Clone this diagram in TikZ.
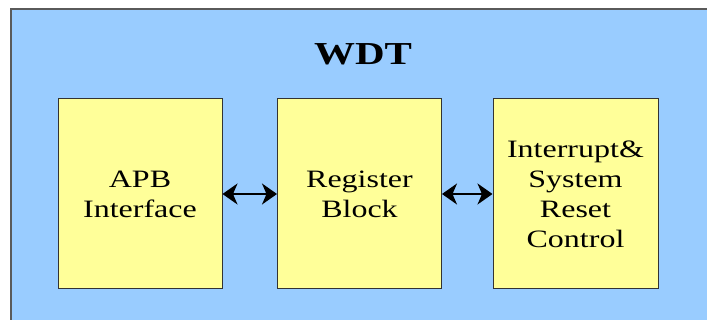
\documentclass[tikz,border=0pt]{standalone}
\usepackage{fontspec}
\setmainfont{Liberation Serif}[FakeStretch=1.28]
\usetikzlibrary{arrows.meta}
\definecolor{wdtblue}{HTML}{99CCFF}
\definecolor{blockyellow}{HTML}{FFFF99}
\definecolor{edgegray}{HTML}{5A5A5A}

\begin{document}
\begin{tikzpicture}[x=1pt,y=-1pt,
    block/.style={draw=black!80, line width=1pt, fill=blockyellow,
      minimum width=164pt, minimum height=190pt, inner sep=0pt,
      align=center, font=\fontsize{25}{30}\selectfont},
    barb/.tip={Stealth[length=15pt,width=21pt,inset=4.5pt]},
    link/.style={line width=1.8pt, barb-barb}]
      \useasboundingbox (0,0) rectangle (707,320);
      \clip (0,0) rectangle (707,320);
      % outer WDT frame
      \draw [draw=edgegray, line width=1.5pt, fill=wdtblue] (11,9) rectangle (730,340);
      \node [anchor=base, font=\fontsize{32}{36}\selectfont\bfseries] (wdt) at (363,65) {WDT};
      % the three blocks
      \node [block] (apb) at (140,194) {APB\\Interface};
      \node [block] (reg) at (359.5,194) {Register\\Block};
      \node [block, minimum width=165pt] (irq) at (575.5,194) {Interrupt\&\\System\\Reset\\Control};
      % links between blocks
      \draw [link] (apb) -- (reg);
      \draw [link] (reg) -- (irq);
\end{tikzpicture}
\end{document}
